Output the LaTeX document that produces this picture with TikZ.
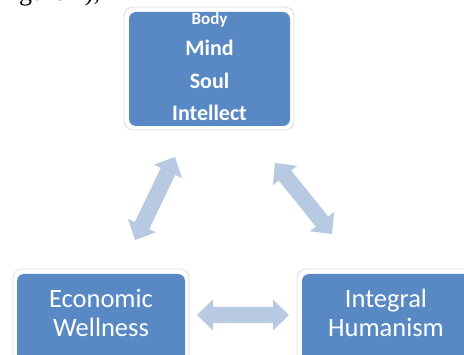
\documentclass[tikz,border=0pt]{standalone}
\usepackage{fontspec}
\setmainfont{Carlito}
\newfontfamily\seriffrag{Liberation Serif}
\usetikzlibrary{calc}
\definecolor{boxblue}{RGB}{88,137,196}
\definecolor{arrowblue}{RGB}{184,201,226}
\definecolor{rimgray}{RGB}{222,222,222}
\tikzset{
  rim/.style={draw=rimgray, line width=0.8pt, fill=white, rounded corners=9pt},
  boxfill/.style={fill=boxblue, rounded corners=7pt},
  toptext/.style={anchor=base, text=white, font=\bfseries\fontsize{22}{22}\selectfont, inner sep=0pt},
  bottext/.style={anchor=base, text=white, font=\fontsize{26.5}{26.5}\selectfont, inner sep=0pt},
}
\newcommand\dblarr[2]{%
  \fill[arrowblue]
    (#1)
    -- ($($(#1)!16pt!(#2)$)!15.5pt!90:(#2)$)
    -- ($($(#1)!16pt!(#2)$)!8pt!90:(#2)$)
    -- ($($(#2)!16pt!(#1)$)!8pt!-90:(#1)$)
    -- ($($(#2)!16pt!(#1)$)!15.5pt!-90:(#1)$)
    -- (#2)
    -- ($($(#2)!16pt!(#1)$)!15.5pt!90:(#1)$)
    -- ($($(#2)!16pt!(#1)$)!8pt!90:(#1)$)
    -- ($($(#1)!16pt!(#2)$)!8pt!-90:(#2)$)
    -- ($($(#1)!16pt!(#2)$)!15.5pt!-90:(#2)$)
    -- cycle;}
\begin{document}
\begin{tikzpicture}[x=1pt,y=-1pt]
\useasboundingbox (0,0) rectangle (464,355);
\clip (0,0) rectangle (464,355);
% cropped text fragment at top left
\node[anchor=base west, inner sep=0pt, font=\seriffrag\fontsize{26}{26}\selectfont] (frag) at (19,0.5) {gure 1),};
% top box
\draw[rim] (124,7) rectangle (294,130);
\fill[boxfill] (129,12) rectangle (290,126);
\coordinate (top) at (209.5,69);
\node[toptext, font=\bfseries\fontsize{17}{17}\selectfont] (body) at (209.5,25) {Body};
\node[toptext] (mind) at (209.5,56) {Mind};
\node[toptext] (soul) at (209.5,89) {Soul};
\node[toptext] (intel) at (209.5,121) {Intellect};
% bottom left box
\draw[rim] (13,269) rectangle (189,372);
\fill[boxfill] (17,274) rectangle (185,368);
\node[bottext] (eco) at (101,308) {Economic};
\node[bottext] (well) at (101,337) {Wellness};
% bottom right box
\draw[rim] (297,269) rectangle (473,372);
\fill[boxfill] (302,274) rectangle (470,368);
\node[bottext] (integ) at (386,308) {Integral};
\node[bottext] (hum) at (386,337) {Humanism};
% arrows
\coordinate (la) at (135,240);
\coordinate (lb) at (175,157);
\coordinate (ra) at (275,163);
\coordinate (rb) at (332,234);
\coordinate (ha) at (197,315);
\coordinate (hb) at (289,315);
\dblarr{la}{lb}
\dblarr{ra}{rb}
\dblarr{ha}{hb}
\end{tikzpicture}
\end{document}
